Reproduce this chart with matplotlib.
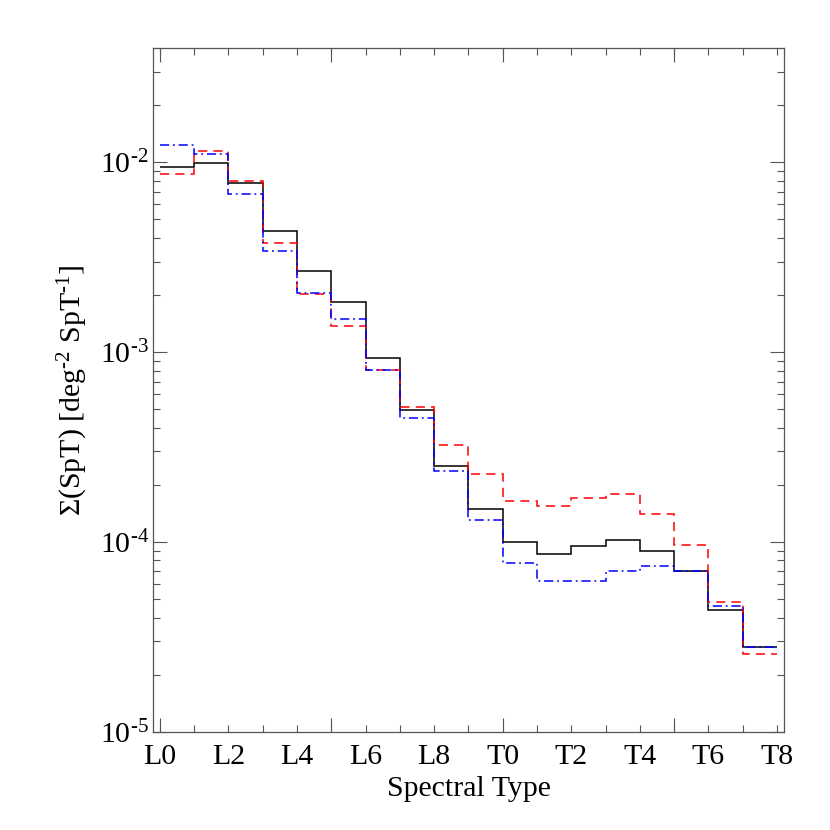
import matplotlib
matplotlib.use("Agg")
import matplotlib.pyplot as plt
from matplotlib.ticker import FixedLocator, LogLocator, NullFormatter

plt.rcParams['font.family'] = ['Liberation Serif', 'DejaVu Serif']
plt.rcParams['mathtext.fontset'] = 'custom'
plt.rcParams['mathtext.rm'] = 'Liberation Serif'
plt.rcParams['mathtext.it'] = 'Liberation Serif:italic'

# bin edges: spectral type index, L0 = 0 ... T8 = 18
edges = list(range(19))
tick_names = ["L0", "L2", "L4", "L6", "L8", "T0", "T2", "T4", "T6", "T8"]

# surface density per spectral subtype
black = [9.45e-3, 9.9e-3, 7.78e-3, 4.35e-3, 2.67e-3, 1.83e-3, 9.27e-4, 4.96e-4,
         2.53e-4, 1.50e-4, 1.00e-4, 8.67e-5, 9.48e-5, 1.02e-4, 8.93e-5, 7.03e-5,
         4.39e-5, 2.79e-5]
red = [8.65e-3, 1.14e-2, 7.94e-3, 3.76e-3, 2.03e-3, 1.37e-3, 8.1e-4, 5.14e-4,
       3.25e-4, 2.27e-4, 1.64e-4, 1.55e-4, 1.70e-4, 1.79e-4, 1.41e-4, 9.64e-5,
       4.82e-5, 2.58e-5]
blue = [1.24e-2, 1.11e-2, 6.84e-3, 3.40e-3, 2.05e-3, 1.49e-3, 8.04e-4, 4.50e-4,
        2.37e-4, 1.30e-4, 7.73e-5, 6.21e-5, 6.21e-5, 7.06e-5, 7.49e-5, 7.06e-5,
        4.59e-5, 2.80e-5]

fig = plt.figure(figsize=(8.3, 8.3), dpi=100)
ax = fig.add_axes([0.1843, 0.1181, 0.7602, 0.8241])

ax.stairs(black, edges, baseline=None, color='black', lw=1.1)
ax.stairs(red, edges, baseline=None, color='red', lw=1.1, linestyle=(0, (6, 4)))
ax.stairs(blue, edges, baseline=None, color='blue', lw=1.1,
          linestyle=(0, (6, 2.5, 1.2, 2.5)))

ax.set_yscale('log')
ax.set_xlim(-0.2, 18.2)
ax.set_ylim(1e-5, 4e-2)

# x ticks: every subtype short, long ticks at 0,5,10,15, labels every 2
ax.xaxis.set_major_locator(FixedLocator(range(19)))
ax.set_xticklabels([tick_names[i // 2] if i % 2 == 0 else "" for i in range(19)])
ax.xaxis.set_minor_locator(FixedLocator([0, 5, 10, 15]))
ax.xaxis.remove_overlapping_locs = False
ax.tick_params(axis='x', which='major', length=5, width=0.8)
ax.tick_params(axis='x', which='minor', length=10, width=0.8)

ax.yaxis.set_major_locator(FixedLocator([1e-5, 1e-4, 1e-3, 1e-2]))
ax.set_yticklabels([r'$10^{\text{-}5}$', r'$10^{\text{-}4}$',
                    r'$10^{\text{-}3}$', r'$10^{\text{-}2}$'])
ax.yaxis.set_minor_locator(LogLocator(base=10, subs=range(2, 10)))
ax.yaxis.set_minor_formatter(NullFormatter())
ax.tick_params(axis='y', which='major', length=10, width=0.8)
ax.tick_params(axis='y', which='minor', length=5, width=0.8)

ax.tick_params(which='both', direction='in', top=True, right=True,
               labelsize=21.5, color='#555555')
ax.tick_params(axis='x', which='major', pad=9)
ax.tick_params(axis='y', which='major', pad=3)
for s in ax.spines.values():
    s.set_color('#555555')
    s.set_linewidth(0.9)

ax.set_xlabel('Spectral Type', fontsize=21.5, labelpad=4)
ax.set_ylabel(r'$\Sigma$(SpT) [deg$^{\text{-}2}$ SpT$^{\text{-}1}$]',
              fontsize=21.5, labelpad=7)

fig.savefig('out.png', dpi=100)
